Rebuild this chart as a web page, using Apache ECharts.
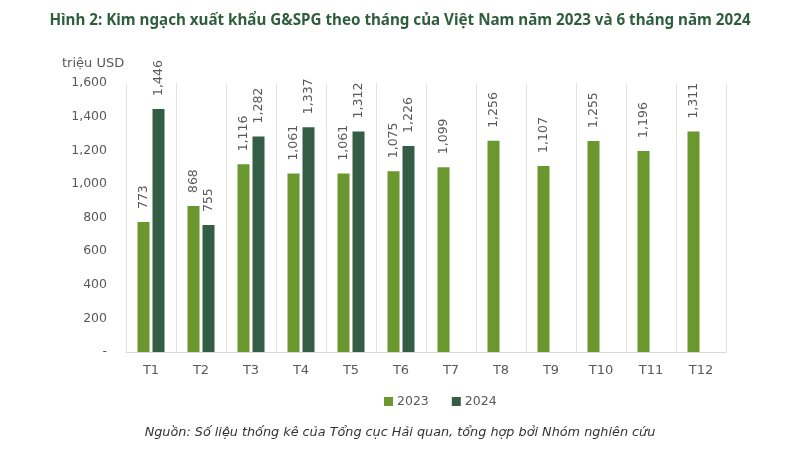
<!DOCTYPE html>
<html>
<head>
<meta charset="utf-8">
<script src="https://cdn.jsdelivr.net/npm/echarts@6/dist/echarts.min.js"></script>
<style>html,body{margin:0;padding:0;background:#fff}#c{width:800px;height:450px}</style>
</head>
<body>
<div id="c"></div>
<script>
var categories = ['T1','T2','T3','T4','T5','T6','T7','T8','T9','T10','T11','T12'];
var values2023 = [773, 868, 1116, 1061, 1061, 1075, 1099, 1256, 1107, 1255, 1196, 1311];
var values2024 = [1446, 755, 1282, 1337, 1312, 1226, null, null, null, null, null, null];
var yTicks = [0, 200, 400, 600, 800, 1000, 1200, 1400, 1600];

var fmt = function (v) { return v === 0 ? '-' : v.toLocaleString('en-US'); };
var FONT = 'DejaVu Sans';
var labelCfg = {
  show: true, position: 'top', rotate: 90, align: 'left', verticalAlign: 'middle',
  distance: 13, color: '#595959', fontFamily: FONT, fontSize: 12.5,
  formatter: function (p) { return p.value == null ? '' : fmt(p.value); }
};
var chart = echarts.init(document.getElementById('c'), null, {renderer: 'canvas'});
chart.setOption({
  backgroundColor: '#fff',
  animation: false,
  title: {
    text: 'Hình 2: Kim ngạch xuất khẩu G&SPG theo tháng của Việt Nam năm 2023 và 6 tháng năm 2024',
    left: 'center', top: 8,
    textStyle: {color: '#2f5e3d', fontFamily: 'Noto Sans', fontWeight: 'bold', fontSize: 15.2}
  },
  graphic: [
    {type: 'text', left: 62, top: 57, style: {text: 'triệu USD', fill: '#595959', font: '13px "DejaVu Sans"'}},
    {type: 'text', left: 'center', top: 426, style: {text: 'Nguồn: Số liệu thống kê của Tổng cục Hải quan, tổng hợp bởi Nhóm nghiên cứu', fill: '#333', font: 'italic 12.8px "DejaVu Sans"'}}
  ],
  legend: {
    data: ['2023', '2024'], top: 390, left: 379, itemWidth: 9, itemHeight: 9, itemGap: 23,
    icon: 'rect', textStyle: {color: '#595959', fontFamily: FONT, fontSize: 12.5, padding: [0, 0, 0, -1]}
  },
  grid: {left: 126, right: 74, top: 83, bottom: 98},
  xAxis: {
    type: 'category', data: categories,
    axisLine: {lineStyle: {color: '#d9d9d9'}},
    axisTick: {show: false},
    splitLine: {show: true, lineStyle: {color: '#e3e3e3'}},
    axisLabel: {color: '#595959', fontFamily: FONT, fontSize: 13, margin: 12, interval: 0}
  },
  yAxis: {
    type: 'value', min: yTicks[0], max: yTicks[yTicks.length - 1], interval: 200,
    axisLine: {show: false}, axisTick: {show: false}, splitLine: {show: false},
    axisLabel: {color: '#595959', fontFamily: FONT, fontSize: 12.5, margin: 19, formatter: fmt}
  },
  series: [
    {name: '2023', type: 'bar', data: values2023, barGap: '25%', barCategoryGap: '46%',
     itemStyle: {color: '#6a982f'}, label: labelCfg},
    {name: '2024', type: 'bar', data: values2024,
     itemStyle: {color: '#335e45'}, label: labelCfg}
  ]
});
</script>
</body>
</html>
